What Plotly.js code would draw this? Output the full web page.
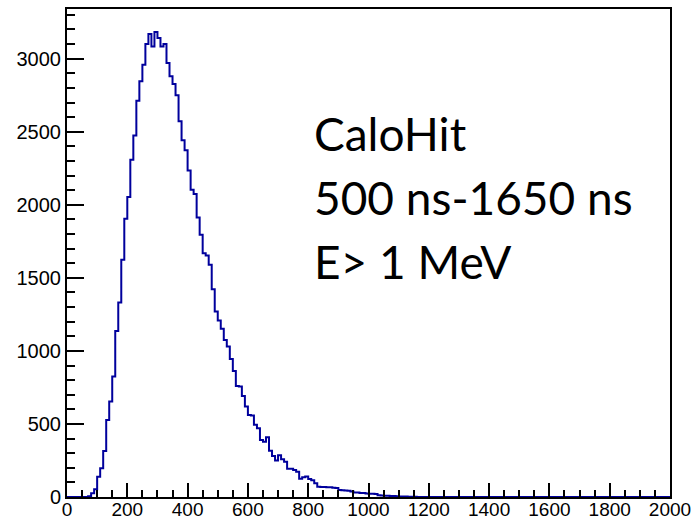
<!DOCTYPE html>
<html>
<head>
<meta charset="utf-8">
<script src="https://cdn.plot.ly/plotly-3.0.1.min.js"></script>
<style>html,body{margin:0;padding:0;background:#fff;}#chart{width:696px;height:520px;}</style>
</head>
<body>
<div id="chart"></div>
<script>
// Histogram: bins of width 10, first listed bin starts at 60 (all other bins empty)
const binWidth = 10;
const firstBinLow = 60;
const counts = [
  0, 5, 25, 53, 139, 196, 315, 527, 653, 824,
  1137, 1331, 1623, 1904, 2053, 2308, 2475, 2712, 2845, 2959,
  3100, 3169, 3084, 3182, 3141, 3084, 3100, 2970, 2879, 2826,
  2749, 2571, 2441, 2374, 2235, 2103, 2073, 1913, 1795, 1669,
  1653, 1589, 1422, 1269, 1208, 1151, 1075, 1030, 945, 863,
  760, 756, 692, 619, 562, 557, 495, 470, 390, 379,
  409, 317, 281, 249, 286, 258, 242, 194, 194, 185,
  173, 125, 135, 140, 123, 114, 94, 71, 68, 68,
  66, 66, 64, 62, 48, 46, 44, 42, 37, 30,
  30, 28, 27, 24, 22, 22, 20, 12, 10, 9,
  8, 7, 6, 5, 4, 3, 3, 2, 2, 1, 0
];
const xRange = [0, 2000];
const yRange = [0, 3340];
const xTickVals = [0, 200, 400, 600, 800, 1000, 1200, 1400, 1600, 1800, 2000];
const yTickVals = [0, 500, 1000, 1500, 2000, 2500, 3000];
const textLines = ["CaloHit", "500 ns-1650 ns", "E> 1 MeV"];

const xs = [xRange[0]];
const ys = [0];
counts.forEach((c, i) => { xs.push(firstBinLow + i * binWidth); ys.push(c); });
xs.push(firstBinLow + counts.length * binWidth); ys.push(0);
xs.push(xRange[1]); ys.push(0);

const trace = {
  x: xs, y: ys, type: 'scatter', mode: 'lines',
  line: {shape: 'hv', color: '#00009c', width: 2},
  hoverinfo: 'skip'
};

const axisCommon = {
  showgrid: false, zeroline: false, showline: true, mirror: true,
  linecolor: '#000', linewidth: 2, ticks: 'inside', tickcolor: '#000', tickwidth: 2
};

const layout = {
  width: 696, height: 520,
  margin: {l: 67, r: 26, t: 9, b: 23},
  paper_bgcolor: '#fff', plot_bgcolor: '#fff',
  showlegend: false,
  xaxis: Object.assign({}, axisCommon, {
    range: xRange, tickmode: 'array', tickvals: xTickVals, ticklen: 14,
    ticklabelstandoff: -6,
    tickfont: {family: 'Liberation Sans, Arial, sans-serif', size: 19, color: '#000'},
    minor: {dtick: 50, ticklen: 7, tickwidth: 2, tickcolor: '#000', ticks: 'inside'}
  }),
  yaxis: Object.assign({}, axisCommon, {
    range: yRange, tickmode: 'array', tickvals: yTickVals, ticklen: 17,
    tickfont: {family: 'Liberation Sans, Arial, sans-serif', size: 20, color: '#000'},
    minor: {dtick: 100, ticklen: 8, tickwidth: 2, tickcolor: '#000', ticks: 'inside'}
  }),
  annotations: textLines.map((t, i) => ({
    text: t, xref: 'paper', yref: 'paper', x: 0.406, y: [0.745, 0.613, 0.482][i],
    xanchor: 'left', yanchor: 'middle', showarrow: false,
    font: {family: 'Lato, Carlito, sans-serif', size: 46, color: '#000'}
  }))
};

Plotly.newPlot('chart', [trace], layout, {staticPlot: true, displayModeBar: false});
</script>
</body>
</html>
